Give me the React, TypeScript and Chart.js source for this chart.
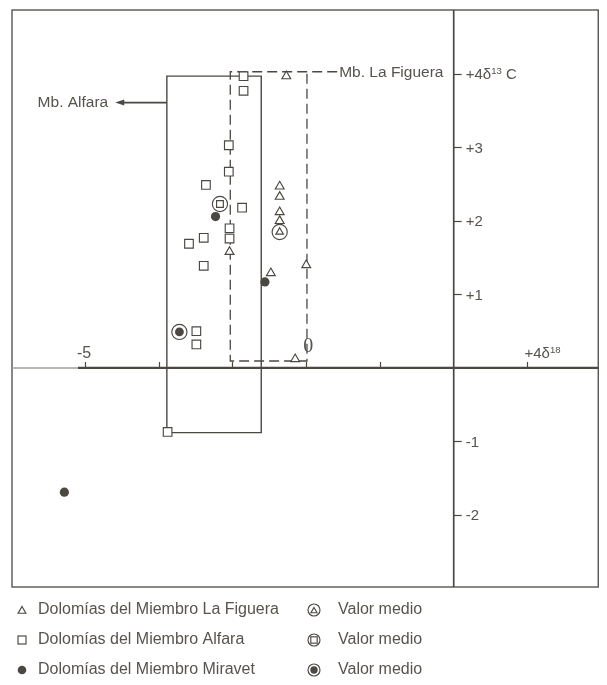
import React, { useEffect, useRef } from 'react';
import { Chart, registerables } from 'chart.js';

Chart.register(...registerables);

// ---- data (δ18O on x in tick units, δ13C on y) ----
const figueraX = [-2.27, -2.36, -2.36, -2.36, -2.36, -3.04, -2.0, -2.48, -2.15];
const figueraY = [3.97, 2.47, 2.33, 2.12, 2.0, 1.58, 1.4, 1.29, 0.12];
const figueraMeanX = [-2.36];
const figueraMeanY = [1.85];

const alfaraX = [-2.85, -2.85, -3.05, -3.05, -3.36, -2.87, -3.04, -3.04, -3.39, -3.59, -3.39, -3.49, -3.49, -3.88];
const alfaraY = [3.97, 3.77, 3.03, 2.67, 2.49, 2.18, 1.9, 1.76, 1.77, 1.69, 1.39, 0.5, 0.32, -0.87];
const alfaraMeanX = [-3.17];
const alfaraMeanY = [2.23];

const miravetX = [-3.23, -2.56, -5.28];
const miravetY = [2.06, 1.17, -1.69];
const miravetMeanX = [-3.72];
const miravetMeanY = [0.49];

// ranges of the members (boxes)
const alfaraBoxX = [-3.89, -2.61];
const alfaraBoxY = [-0.88, 3.97];
const figueraBoxX = [-3.03, -1.99];
const figueraBoxY = [0.095, 4.03];
const figueraLabelX = -1.58;
const alfaraArrowX = [-3.89, -4.59];
const alfaraArrowY = 3.61;

// axes
const xRange = [-5.99, 1.96];
const yRange = [-2.98, 4.87];
const xTicks = [-5, -4, -3, -2, -1, 1];
const xTickLabels = ['-5', '', '', '0', '', '+4δ^18'];
const yTicks = [4, 3, 2, 1, -1, -2];
const yTickLabels = ['+4δ^13 C', '+3', '+2', '+1', '-1', '-2'];

const legendLabels = ['Dolomías del Miembro La Figuera', 'Dolomías del Miembro Alfara', 'Dolomías del Miembro Miravet'];
const meanLabel = 'Valor medio';
const figueraLabel = 'Mb. La Figuera';
const alfaraLabel = 'Mb. Alfara';

const INK = '#4b4842';
const TEXT = '#57534d';
const SANS = '"Liberation Sans", Arial, sans-serif';
const SERIF = '"Liberation Serif", "DejaVu Serif", serif';

const pts = (xs: number[], ys: number[]) => xs.map((x, i) => ({ x, y: ys[i] }));

function drawRich(ctx: CanvasRenderingContext2D, text: string, x: number, y: number, size: number, align: 'left' | 'center') {
  const segs = text
    .split(/(\^\d+)/)
    .filter((t) => t.length)
    .map((t) => (t.startsWith('^') ? { t: t.slice(1), sup: true, w: 0 } : { t, sup: false, w: 0 }));
  let total = 0;
  for (const s of segs) {
    ctx.font = `${s.sup ? size * 0.64 : size}px ${SANS}`;
    s.w = ctx.measureText(s.t).width;
    total += s.w;
  }
  let cx = align === 'center' ? x - total / 2 : x;
  ctx.textAlign = 'left';
  ctx.textBaseline = 'alphabetic';
  for (const s of segs) {
    ctx.font = `${s.sup ? size * 0.64 : size}px ${SANS}`;
    ctx.fillText(s.t, cx, s.sup ? y - size * 0.36 : y);
    cx += s.w;
  }
}

function tri(ctx: CanvasRenderingContext2D, cx: number, cy: number, r: number, fill = false) {
  ctx.beginPath();
  ctx.moveTo(cx, cy - r);
  ctx.lineTo(cx + r * 0.866, cy + r * 0.5);
  ctx.lineTo(cx - r * 0.866, cy + r * 0.5);
  ctx.closePath();
  if (fill) ctx.fill();
  ctx.stroke();
}
function sq(ctx: CanvasRenderingContext2D, cx: number, cy: number, h: number) {
  ctx.strokeRect(cx - h, cy - h, 2 * h, 2 * h);
}
function dot(ctx: CanvasRenderingContext2D, cx: number, cy: number, r: number) {
  ctx.beginPath();
  ctx.arc(cx, cy, r, 0, Math.PI * 2);
  ctx.fill();
}
function ring(ctx: CanvasRenderingContext2D, cx: number, cy: number, r: number) {
  ctx.beginPath();
  ctx.arc(cx, cy, r, 0, Math.PI * 2);
  ctx.stroke();
}

const decor = {
  id: 'decor',
  beforeDatasetsDraw(chart: any) {
    const { ctx, chartArea: a, scales } = chart;
    const sx = scales.x, sy = scales.y;
    const x0 = sx.getPixelForValue(0);
    const y0 = sy.getPixelForValue(0);
    ctx.save();
    ctx.strokeStyle = INK;
    ctx.lineWidth = 1.3;
    ctx.strokeRect(a.left, a.top, a.right - a.left, a.bottom - a.top);
    // vertical axis
    ctx.lineWidth = 1.7;
    ctx.beginPath();
    ctx.moveTo(x0, a.top);
    ctx.lineTo(x0, a.bottom);
    ctx.stroke();
    // horizontal axis
    const xStart = sx.getPixelForValue(xTicks[0]) - 7;
    ctx.strokeStyle = '#a29e97';
    ctx.lineWidth = 1.5;
    ctx.beginPath();
    ctx.moveTo(a.left, y0);
    ctx.lineTo(xStart, y0);
    ctx.stroke();
    ctx.strokeStyle = INK;
    ctx.lineWidth = 2.2;
    ctx.beginPath();
    ctx.moveTo(xStart, y0);
    ctx.lineTo(a.right, y0);
    ctx.stroke();
    // x ticks
    ctx.lineWidth = 1.2;
    xTicks.forEach((v) => {
      const px = Math.round(sx.getPixelForValue(v)) + 0.5;
      ctx.beginPath();
      ctx.moveTo(px, y0);
      ctx.lineTo(px, y0 - 6);
      ctx.stroke();
    });
    // y ticks
    yTicks.forEach((v) => {
      const py = Math.round(sy.getPixelForValue(v)) + 0.5;
      ctx.beginPath();
      ctx.moveTo(x0, py);
      ctx.lineTo(x0 + 8, py);
      ctx.stroke();
    });
    ctx.restore();
  },
  afterDatasetsDraw(chart: any) {
    const { ctx, scales } = chart;
    const sx = scales.x, sy = scales.y;
    const x0 = sx.getPixelForValue(0);
    const y0 = sy.getPixelForValue(0);
    ctx.save();
    ctx.fillStyle = TEXT;
    // x tick labels
    xTicks.forEach((v, i) => {
      const lab = xTickLabels[i];
      if (!lab) return;
      const px = sx.getPixelForValue(v);
      if (lab === '0') {
        ctx.font = `20px ${SERIF}`;
        ctx.textAlign = 'center';
        ctx.textBaseline = 'alphabetic';
        ctx.fillText(lab, px + 2, y0 - 16);
      } else if (lab.includes('^')) {
        drawRich(ctx, lab, px - 3, y0 - 10, 15, 'left');
      } else {
        drawRich(ctx, lab, px - 1, y0 - 10, 16, 'center');
      }
    });
    // y tick labels
    yTicks.forEach((v, i) => {
      const py = sy.getPixelForValue(v);
      drawRich(ctx, yTickLabels[i], x0 + 12, py + 5.5, 15, 'left');
    });
    // member labels
    ctx.font = `15.5px ${SANS}`;
    ctx.textBaseline = 'middle';
    ctx.textAlign = 'left';
    ctx.fillText(figueraLabel, sx.getPixelForValue(figueraLabelX) + 2, sy.getPixelForValue(figueraBoxY[1]) + 1);
    // alfara arrow
    const ay = sy.getPixelForValue(alfaraArrowY);
    const ax1 = sx.getPixelForValue(alfaraArrowX[0]);
    const ax2 = sx.getPixelForValue(alfaraArrowX[1]);
    ctx.strokeStyle = INK;
    ctx.fillStyle = INK;
    ctx.lineWidth = 1.8;
    ctx.beginPath();
    ctx.moveTo(ax1, ay);
    ctx.lineTo(ax2 + 7, ay);
    ctx.stroke();
    ctx.beginPath();
    ctx.moveTo(ax2, ay);
    ctx.lineTo(ax2 + 9, ay - 3);
    ctx.lineTo(ax2 + 9, ay + 3);
    ctx.closePath();
    ctx.fill();
    ctx.fillStyle = TEXT;
    ctx.textAlign = 'right';
    ctx.fillText(alfaraLabel, ax2 - 7, ay);

    // legend
    const rows = [610, 640, 670];
    const mx = 22, tx = 38, mx2 = 314, tx2 = 338;
    ctx.strokeStyle = INK;
    ctx.fillStyle = INK;
    ctx.lineWidth = 1.15;
    tri(ctx, mx, rows[0] + 1, 4.5);
    sq(ctx, mx, rows[1], 4.0);
    dot(ctx, mx, rows[2], 4.3);
    ring(ctx, mx2, rows[0], 6.0);
    tri(ctx, mx2, rows[0] + 1, 3.5);
    ring(ctx, mx2, rows[1], 6.0);
    sq(ctx, mx2, rows[1], 3.2);
    ring(ctx, mx2, rows[2], 6.0);
    dot(ctx, mx2, rows[2], 3.7);
    ctx.fillStyle = TEXT;
    ctx.font = `16px ${SANS}`;
    ctx.textAlign = 'left';
    ctx.textBaseline = 'middle';
    legendLabels.forEach((l, i) => {
      ctx.fillText(l, tx, rows[i]);
      ctx.fillText(meanLabel, tx2, rows[i]);
    });
    ctx.restore();
  },
};

export default function App() {
  const ref = useRef<HTMLCanvasElement | null>(null);
  useEffect(() => {
    if (!ref.current) return;
    const marker = { showLine: false, borderColor: INK, backgroundColor: '#ffffff', pointBorderWidth: 1.15 };
    const box = (xs: number[], ys: number[]) => [
      { x: xs[0], y: ys[0] },
      { x: xs[1], y: ys[0] },
      { x: xs[1], y: ys[1] },
      { x: xs[0], y: ys[1] },
      { x: xs[0], y: ys[0] },
    ];
    const chart = new Chart(ref.current, {
      type: 'scatter',
      data: {
        datasets: [
          { ...marker, label: 'La Figuera media', data: pts(figueraMeanX, figueraMeanY), pointStyle: 'triangle', pointRadius: 4.3, order: 0 },
          { ...marker, label: 'Alfara media', data: pts(alfaraMeanX, alfaraMeanY), pointStyle: 'rect', pointRadius: 4.8, order: 0 },
          { ...marker, label: 'Miravet media', data: pts(miravetMeanX, miravetMeanY), pointStyle: 'circle', pointRadius: 4.4, backgroundColor: INK, pointBorderWidth: 0, order: 0 },
          {
            ...marker,
            label: 'Valor medio',
            data: [...pts(figueraMeanX, figueraMeanY), ...pts(alfaraMeanX, alfaraMeanY), ...pts(miravetMeanX, miravetMeanY)],
            pointStyle: 'circle',
            pointRadius: 7.6,
            order: 1,
          },
          { ...marker, label: legendLabels[0], data: pts(figueraX, figueraY), pointStyle: 'triangle', pointRadius: 5.1, order: 2 },
          { ...marker, label: legendLabels[1], data: pts(alfaraX, alfaraY), pointStyle: 'rect', pointRadius: 6.1, order: 2 },
          { ...marker, label: legendLabels[2], data: pts(miravetX, miravetY), pointStyle: 'circle', pointRadius: 4.6, backgroundColor: INK, pointBorderWidth: 0, order: 2 },
          {
            label: 'Mb. Alfara',
            data: box(alfaraBoxX, alfaraBoxY),
            showLine: true,
            borderColor: INK,
            borderWidth: 1.4,
            pointRadius: 0,
            fill: false,
            order: 5,
          },
          {
            label: 'Mb. La Figuera',
            data: [
              { x: figueraLabelX, y: figueraBoxY[1] },
              { x: figueraBoxX[0], y: figueraBoxY[1] },
              { x: figueraBoxX[0], y: figueraBoxY[0] },
              { x: figueraBoxX[1], y: figueraBoxY[0] },
              { x: figueraBoxX[1], y: figueraBoxY[1] },
            ],
            showLine: true,
            borderColor: INK,
            borderWidth: 1.3,
            borderDash: [10, 5],
            pointRadius: 0,
            fill: false,
            order: 5,
          },
        ],
      },
      options: {
        responsive: false,
        animation: false,
        events: [],
        layout: { padding: { left: 12, top: 10, right: 7, bottom: 98 } },
        plugins: { legend: { display: false }, tooltip: { enabled: false } },
        scales: {
          x: { type: 'linear', min: xRange[0], max: xRange[1], display: false },
          y: { type: 'linear', min: yRange[0], max: yRange[1], display: false },
        },
      },
      plugins: [decor],
    } as any);
    return () => chart.destroy();
  }, []);
  return (
    <div style={{ position: 'absolute', left: 0, top: 0, width: 607, height: 685 }}>
      <canvas ref={ref} width={607} height={685} style={{ display: 'block', width: 607, height: 685 }} />
    </div>
  );
}
